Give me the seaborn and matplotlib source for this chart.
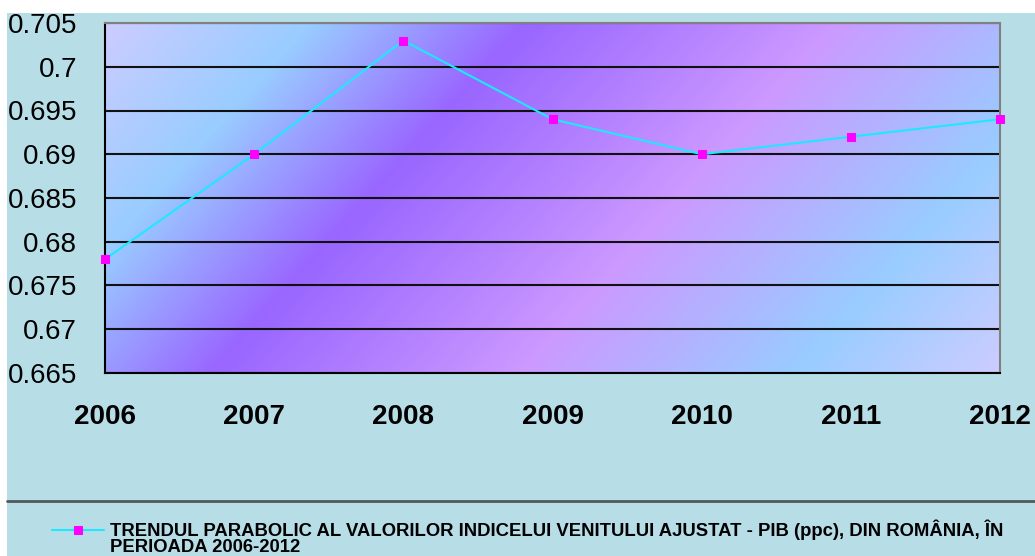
import numpy as np
import pandas as pd
import seaborn as sns
import matplotlib
import matplotlib.pyplot as plt
from matplotlib import font_manager
from matplotlib.colors import LinearSegmentedColormap
from matplotlib.patches import Rectangle
from matplotlib.lines import Line2D

matplotlib.use('Agg')

# =================================== DATA ===================================

years = [2006, 2007, 2008, 2009, 2010, 2011, 2012]
trend_values = [0.678, 0.690, 0.703, 0.694, 0.690, 0.692, 0.694]
y_ticks = [0.665, 0.670, 0.675, 0.680, 0.685, 0.690, 0.695, 0.700, 0.705]
series_label = 'TRENDUL PARABOLIC AL VALORILOR INDICELUI VENITULUI AJUSTAT - PIB (ppc), DIN ROMÂNIA, ÎN'
series_label_cont = 'PERIOADA 2006-2012'

# =================================== STYLE ===================================

W, H = 1035, 556
BG_COLOR = '#B7DDE7'
LINE_COLOR = '#1EE8FF'
MARKER_COLOR = '#FF00FF'

sns.set_style('white')


def pick_font(names):
    for name in names:
        try:
            font_manager.findfont(font_manager.FontProperties(family=name), fallback_to_default=False)
            return name
        except Exception:
            continue
    return 'DejaVu Sans'


main_font = pick_font(['Liberation Sans', 'Arial', 'DejaVu Sans'])
plt.rcParams['font.family'] = [main_font, 'DejaVu Sans']
plt.rcParams['text.color'] = 'black'
plt.rcParams['xtick.color'] = 'black'
plt.rcParams['ytick.color'] = 'black'

df = pd.DataFrame({'year': years, 'value': trend_values})

fig = plt.figure(figsize=(W / 100, H / 100), dpi=100, facecolor='white')
fig.patches.append(Rectangle((7 / W, 0), 1, (H - 13) / H, transform=fig.transFigure,
                             facecolor=BG_COLOR, edgecolor='none', zorder=-10))

ax = fig.add_axes([105 / W, 1 - 373 / H, 895 / W, 350 / H])
ax.set_facecolor('none')

# diagonal gradient fill of the plot area
gw, gh = 895, 350
gx, gy = np.meshgrid(np.arange(gw), np.arange(gh))
t = (gx + 0.9 * gy) / (gw + 0.9 * gh)
stops = [(0.0, '#CCCCFF'), (205 / 1210, '#99CCFF'), (420 / 1210, '#9966FF'),
         (730 / 1210, '#CC99FF'), (1005 / 1210, '#99CCFF'), (1.0, '#CCCCFF')]
cmap = LinearSegmentedColormap.from_list('plotfill', stops)
ax.imshow(t, cmap=cmap, extent=[0, 1, 0, 1], transform=ax.transAxes,
          aspect='auto', origin='upper', zorder=0, interpolation='bilinear')

sns.lineplot(data=df, x='year', y='value', ax=ax, color=LINE_COLOR, linewidth=1.5,
             marker='s', markersize=6, markerfacecolor=MARKER_COLOR,
             markeredgecolor=MARKER_COLOR, clip_on=False, zorder=5, label=series_label)

ax.set_xlim(2006, 2012)
ax.set_ylim(0.665, 0.705)
ax.set_xticks(years)
ax.set_yticks(y_ticks)
ax.set_yticklabels([f'{v:g}' for v in y_ticks])
ax.set_xlabel('')
ax.set_ylabel('')

for v in y_ticks:
    ax.axhline(v, color='#111111', linewidth=1.5, zorder=2)

ax.tick_params(axis='y', direction='out', length=8, width=1, colors='black',
               pad=12, labelsize=20)
ax.tick_params(axis='x', direction='out', length=8, width=1, colors='black',
               pad=14, labelsize=20)
for lbl in ax.get_xticklabels():
    lbl.set_fontweight('bold')

for side in ['top', 'right']:
    ax.spines[side].set_color('#808080')
    ax.spines[side].set_linewidth(1.5)
for side in ['left', 'bottom']:
    ax.spines[side].set_color('black')
    ax.spines[side].set_linewidth(1.5)
for sp in ax.spines.values():
    sp.set_zorder(3)

# separator above legend
fig.add_artist(Line2D([7 / W, 1], [1 - 501 / H, 1 - 501 / H], transform=fig.transFigure,
                      color='#4F5A5E', linewidth=2))

legend_prop = {'family': [main_font, 'DejaVu Sans'], 'weight': 'bold', 'size': 13.3}
handles, labels = ax.get_legend_handles_labels()
ax.get_legend().remove()
fig.legend(handles, labels, loc='center left', bbox_to_anchor=(52 / W, 1 - 530 / H),
           frameon=False, borderpad=0, borderaxespad=0, handlelength=2.8,
           handletextpad=0.35, prop=legend_prop)
fig.text(110 / W, 1 - 548 / H, series_label_cont, ha='left', va='center',
         fontproperties=font_manager.FontProperties(**legend_prop))

plt.savefig('out.png', dpi=100, facecolor='white')
plt.close('all')
